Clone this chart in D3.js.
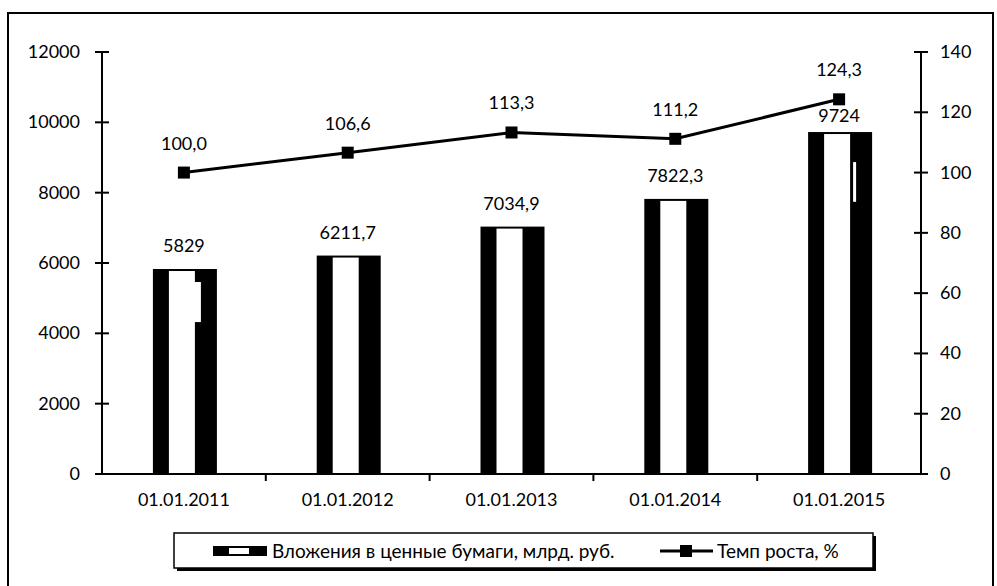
<!DOCTYPE html>
<meta charset="utf-8">
<script src="https://d3js.org/d3.v7.min.js"></script>
<style>
  body { margin: 0; background: #fff; }
  text { font-family: Lato, "Open Sans", sans-serif; font-size: 18px; fill: #000; }
  .legend text { font-size: 19px; }
</style>
<body>
<div id="chart"></div>
<script>
  // chart data
  var dates = ["01.01.2011", "01.01.2012", "01.01.2013", "01.01.2014", "01.01.2015"];
  var investments = [5829, 6211.7, 7034.9, 7822.3, 9724];
  var investLabels = ["5829", "6211,7", "7034,9", "7822,3", "9724"];
  var growth = [100.0, 106.6, 113.3, 111.2, 124.3];
  var growthLabels = ["100,0", "106,6", "113,3", "111,2", "124,3"];
  var leftTicks = [0, 2000, 4000, 6000, 8000, 10000, 12000];
  var rightTicks = [0, 20, 40, 60, 80, 100, 120, 140];
  var seriesNames = ["Вложения в ценные бумаги, млрд. руб.", "Темп роста, %"];
  // white scan flaws inside two bars: [bar index, value from, value to]
  var flaws = [[0, 4320, 5460], [4, 7740, 8870]];

  var W = 997, H = 586;
  var pLeft = 102, pRight = 921, pTop = 52, pBottom = 474;

  var svg = d3.select("#chart").append("svg")
      .attr("width", W).attr("height", H);

  // outer frame
  svg.append("rect")
      .attr("x", 8).attr("y", 13).attr("width", 985).attr("height", 600)
      .attr("fill", "none").attr("stroke", "#000").attr("stroke-width", 2);

  var x = d3.scaleBand().domain(dates).range([pLeft, pRight]);
  var y = d3.scaleLinear().domain([0, 12000]).range([pBottom, pTop]);
  var y2 = d3.scaleLinear().domain([0, 140]).range([pBottom, pTop]);
  var cx = function(d) { return x(d) + x.bandwidth() / 2; };

  // bars
  var bw = 64;
  var bars = svg.append("g").selectAll("g").data(dates).enter().append("g");
  bars.append("rect")
      .attr("x", function(d) { return cx(d) - bw / 2 + 1; })
      .attr("y", function(d, i) { return y(investments[i]); })
      .attr("width", bw)
      .attr("height", function(d, i) { return pBottom - y(investments[i]); })
      .attr("fill", "#000");
  bars.append("rect")
      .attr("x", function(d) { return cx(d) - bw / 2 + 17; })
      .attr("y", function(d, i) { return y(investments[i]) + 2; })
      .attr("width", 26)
      .attr("height", function(d, i) { return pBottom - y(investments[i]) - 2; })
      .attr("fill", "#fff");

  svg.selectAll(".flaw").data(flaws).enter().append("rect")
      .attr("x", function(d) { return cx(dates[d[0]]) - bw / 2 + (d[0] == 0 ? 42 : 46); })
      .attr("y", function(d) { return y(d[2]); })
      .attr("width", function(d) { return d[0] == 0 ? 7 : 3; })
      .attr("height", function(d) { return y(d[1]) - y(d[2]); })
      .attr("fill", "#fff");

  bars.append("text")
      .attr("x", function(d) { return cx(d); })
      .attr("y", function(d, i) { return y(investments[i]) - (i == 4 ? 10 : 17); })
      .attr("text-anchor", "middle")
      .text(function(d, i) { return investLabels[i]; });

  // axes
  var ax = svg.append("g").attr("stroke", "#000").attr("stroke-width", 2);
  ax.append("line").attr("x1", pLeft).attr("x2", pLeft).attr("y1", pTop).attr("y2", pBottom);
  ax.append("line").attr("x1", pRight).attr("x2", pRight).attr("y1", pTop).attr("y2", pBottom);
  ax.append("line").attr("x1", pLeft - 7).attr("x2", pRight + 7).attr("y1", pBottom).attr("y2", pBottom);

  ax.selectAll(".lt").data(leftTicks).enter().append("line")
      .attr("x1", pLeft - 7).attr("x2", pLeft + 7)
      .attr("y1", function(d) { return y(d); }).attr("y2", function(d) { return y(d); });
  svg.selectAll(".ltl").data(leftTicks).enter().append("text")
      .attr("x", pLeft - 22).attr("y", function(d) { return y(d) + 6; })
      .attr("text-anchor", "end")
      .text(function(d) { return d; });

  ax.selectAll(".rt").data(rightTicks).enter().append("line")
      .attr("x1", pRight - 7).attr("x2", pRight + 7)
      .attr("y1", function(d) { return y2(d); }).attr("y2", function(d) { return y2(d); });
  svg.selectAll(".rtl").data(rightTicks).enter().append("text")
      .attr("x", pRight + 19).attr("y", function(d) { return y2(d) + 6; })
      .text(function(d) { return d; });

  // category separators on x axis
  ax.selectAll(".xt").data(dates.slice(1)).enter().append("line")
      .attr("x1", function(d) { return x(d); }).attr("x2", function(d) { return x(d); })
      .attr("y1", pBottom).attr("y2", pBottom + 7);
  svg.selectAll(".xtl").data(dates).enter().append("text")
      .attr("x", cx)
      .attr("y", pBottom + 32)
      .attr("text-anchor", "middle")
      .text(function(d) { return d; });

  // growth line
  var line = d3.line()
      .x(function(d, i) { return cx(dates[i]); })
      .y(function(d) { return y2(d); });
  svg.append("path").datum(growth)
      .attr("d", line).attr("fill", "none")
      .attr("stroke", "#000").attr("stroke-width", 3);
  svg.selectAll(".mk").data(growth).enter().append("rect")
      .attr("x", function(d, i) { return cx(dates[i]) - 6; })
      .attr("y", function(d) { return y2(d) - 6; })
      .attr("width", 12).attr("height", 12)
      .attr("fill", "#000");
  svg.selectAll(".gl").data(growth).enter().append("text")
      .attr("x", function(d, i) { return cx(dates[i]); })
      .attr("y", function(d) { return y2(d) - 23; })
      .attr("text-anchor", "middle")
      .text(function(d, i) { return growthLabels[i]; });

  // legend
  var lg = svg.append("g").attr("class", "legend");
  lg.append("rect").attr("x", 177).attr("y", 536).attr("width", 699).attr("height", 35).attr("fill", "#000");
  lg.append("rect").attr("x", 174).attr("y", 533).attr("width", 699).attr("height", 35)
      .attr("fill", "#fff").attr("stroke", "#000").attr("stroke-width", 1.5);
  lg.append("rect").attr("x", 213).attr("y", 546).attr("width", 54).attr("height", 10).attr("fill", "#000");
  lg.append("rect").attr("x", 229).attr("y", 548).attr("width", 20).attr("height", 6).attr("fill", "#fff");
  lg.append("text").attr("x", 272).attr("y", 558).text(seriesNames[0]);
  lg.append("line").attr("x1", 660).attr("x2", 713).attr("y1", 551).attr("y2", 551)
      .attr("stroke", "#000").attr("stroke-width", 3);
  lg.append("rect").attr("x", 680).attr("y", 545).attr("width", 12).attr("height", 12).attr("fill", "#000");
  lg.append("text").attr("x", 717).attr("y", 558).text(seriesNames[1]);
</script>
</body>
